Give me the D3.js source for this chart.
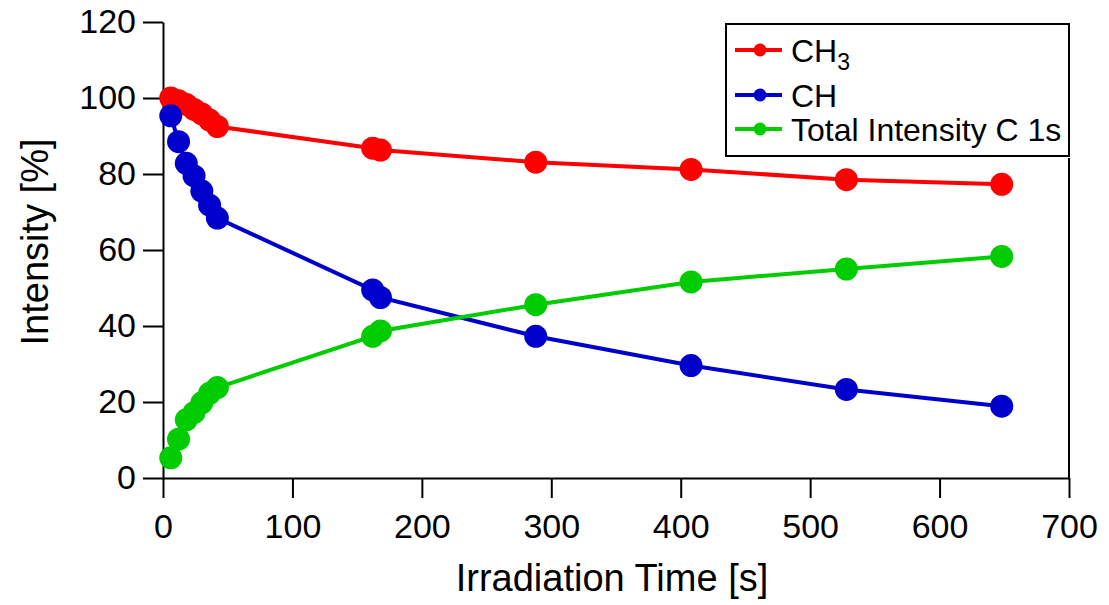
<!DOCTYPE html>
<html><head><meta charset="utf-8">
<script src="https://cdn.jsdelivr.net/npm/d3@7"></script>
<style>body{margin:0;background:#fff}svg{display:block}text{font-family:"Liberation Sans",Arial,sans-serif;fill:#000}</style>
</head><body><svg id="c" width="1109" height="605"></svg>
<script>
const times = [6, 12, 18, 24, 30, 36, 42, 162, 168, 288, 408, 528, 648];
const ch3 = [100, 99.3, 98.3, 97.0, 95.8, 94.2, 92.5, 86.8, 86.3, 83.1, 81.2, 78.5, 77.3];
const ch = [95.3, 88.5, 82.8, 79.5, 75.5, 71.8, 68.4, 49.5, 47.5, 37.3, 29.6, 23.3, 18.9];
const total = [5.3, 10.2, 15.3, 17.2, 19.8, 22.3, 23.8, 37.3, 38.7, 45.6, 51.6, 55.0, 58.3];
const seriesNames = ["CH3", "CH", "Total Intensity C 1s"];
const xTicks = [0, 100, 200, 300, 400, 500, 600, 700];
const yTicks = [0, 20, 40, 60, 80, 100, 120];

const colors = ["#ff0000", "#0000cc", "#00cc00"];
const svg = d3.select("#c");
const x = d3.scaleLinear().domain([0, 700]).range([163, 1069]);
const y = d3.scaleLinear().domain([0, 120]).range([478, 22]);

const xa = svg.append("g").attr("transform", "translate(0,478)")
  .call(d3.axisBottom(x).tickValues(xTicks).tickSize(20).tickPadding(16).tickSizeOuter(0));
const ya = svg.append("g").attr("transform", "translate(163,0)")
  .call(d3.axisLeft(y).tickValues(yTicks).tickSize(20).tickPadding(7).tickSizeOuter(0));
[xa, ya].forEach(a => {
  a.selectAll("path,line").attr("stroke", "#000").attr("stroke-width", 2);
  a.selectAll("text").style("font-size", "34px").attr("fill", "#000");
});
svg.append("line").attr("x1", 1069).attr("x2", 1069).attr("y1", 158).attr("y2", 478)
  .attr("stroke", "#000").attr("stroke-width", 2);

const data = [ch3, ch, total];
const line = d3.line().x((d, i) => x(times[i])).y(d => y(d));
data.forEach((vals, k) => {
  svg.append("path").datum(vals).attr("d", line).attr("fill", "none")
    .attr("stroke", colors[k]).attr("stroke-width", 4);
});
data.forEach((vals, k) => {
  svg.append("g").selectAll("circle").data(vals).join("circle")
    .attr("cx", (d, i) => x(times[i])).attr("cy", d => y(d)).attr("r", 11.5)
    .attr("fill", colors[k]);
});

svg.append("text").attr("x", 612).attr("y", 591).attr("text-anchor", "middle")
  .style("font-size", "38px").text("Irradiation Time [s]");
svg.append("text").attr("transform", "translate(48,242) rotate(-90)").attr("text-anchor", "middle")
  .style("font-size", "38px").text("Intensity [%]");

const lg = svg.append("g");
lg.append("rect").attr("x", 726).attr("y", 24).attr("width", 343).attr("height", 132)
  .attr("fill", "#fff").attr("stroke", "#000").attr("stroke-width", 2);
const rowsY = [50, 95, 129];
seriesNames.forEach((n, k) => {
  const ry = rowsY[k];
  lg.append("line").attr("x1", 735).attr("x2", 782).attr("y1", ry).attr("y2", ry)
    .attr("stroke", colors[k]).attr("stroke-width", 4);
  lg.append("circle").attr("cx", 760).attr("cy", ry).attr("r", 6.5).attr("fill", colors[k]);
  const t = lg.append("text").attr("x", 791).attr("y", ry + 12).style("font-size", "32px");
  if (n === "CH3") {
    t.append("tspan").text("CH");
    t.append("tspan").attr("dy", 8).style("font-size", "23px").text("3");
  } else t.text(n);
});
</script></body></html>
